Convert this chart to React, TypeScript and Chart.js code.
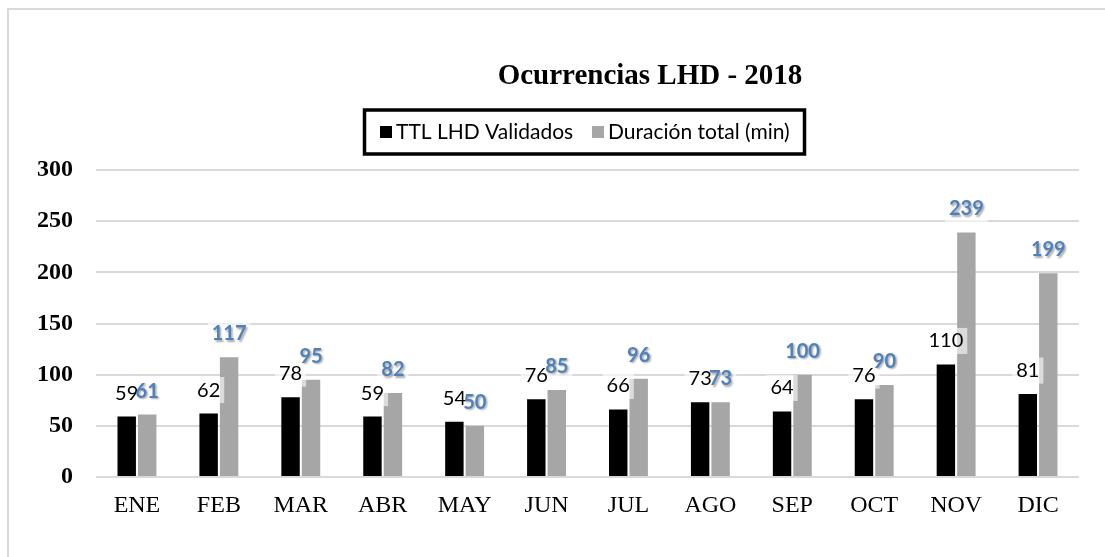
import React, { useEffect, useRef } from "react";
import { Chart, registerables } from "chart.js";

Chart.register(...registerables);

const categories = ["ENE", "FEB", "MAR", "ABR", "MAY", "JUN", "JUL", "AGO", "SEP", "OCT", "NOV", "DIC"];
const validados = [59, 62, 78, 59, 54, 76, 66, 73, 64, 76, 110, 81];
const duracion = [61, 117, 95, 82, 50, 85, 96, 73, 100, 90, 239, 199];
const seriesNames = ["TTL LHD Validados", "Duración total (min)"];
const titleText = "Ocurrencias LHD - 2018";

const SERIF = "'Liberation Serif', 'Times New Roman', serif";
const SANS = "Lato, 'Open Sans', sans-serif";

const framePlugin = {
  id: "frame",
  beforeDraw(chart: any) {
    const ctx = chart.ctx;
    ctx.save();
    ctx.fillStyle = "#ffffff";
    ctx.fillRect(0, 0, chart.width, chart.height);
    ctx.strokeStyle = "#d9d9d9";
    ctx.lineWidth = 2;
    ctx.beginPath();
    ctx.moveTo(8, chart.height + 5);
    ctx.lineTo(8, 9);
    ctx.lineTo(chart.width + 5, 9);
    ctx.stroke();
    ctx.restore();
  },
};

const headerPlugin = {
  id: "header",
  afterDraw(chart: any) {
    const ctx = chart.ctx;
    ctx.save();
    ctx.fillStyle = "#000";
    ctx.font = `bold 29px ${SERIF}`;
    ctx.textAlign = "center";
    ctx.textBaseline = "alphabetic";
    ctx.fillText(titleText, 650, 84);
    ctx.lineWidth = 3.5;
    ctx.strokeStyle = "#000";
    ctx.strokeRect(364.5, 110, 440, 44);
    ctx.font = `21px ${SANS}`;
    ctx.textAlign = "left";
    ctx.textBaseline = "middle";
    const colors = ["#000000", "#a6a6a6"];
    const xs = [380, 592];
    for (let i = 0; i < 2; i++) {
      ctx.fillStyle = colors[i];
      ctx.fillRect(xs[i], 126, 12, 12);
      ctx.fillStyle = "#000";
      ctx.fillText(seriesNames[i], xs[i] + 16, 132);
    }
    ctx.restore();
  },
};

const labelPlugin = {
  id: "valueLabels",
  afterDatasetsDraw(chart: any) {
    const ctx = chart.ctx;
    ctx.save();
    ctx.textAlign = "center";
    ctx.textBaseline = "middle";
    const items: any[] = [];
    chart.data.datasets.forEach((ds: any, di: number) => {
      const meta = chart.getDatasetMeta(di);
      meta.data.forEach((bar: any, i: number) => {
        items.push({ text: String(ds.data[i]), x: bar.x, y: bar.y - 23.5, di });
      });
    });
    items.forEach((it) => {
      ctx.font = it.di === 0 ? `20px ${SANS}` : `bold 20px ${SANS}`;
      const w = ctx.measureText(it.text).width;
      ctx.fillStyle = "rgba(255,255,255,0.6)";
      ctx.fillRect(it.x - w / 2 - 4, it.y - 13, w + 8, 26);
    });
    items.forEach((it) => {
      ctx.font = it.di === 0 ? `20px ${SANS}` : `bold 20px ${SANS}`;
      if (it.di === 0) {
        ctx.shadowColor = "transparent";
        ctx.fillStyle = "#000";
      } else {
        ctx.shadowColor = "rgba(0,0,0,0.35)";
        ctx.shadowOffsetX = 1.5;
        ctx.shadowOffsetY = 1.5;
        ctx.shadowBlur = 2;
        ctx.fillStyle = "#4f81bd";
      }
      ctx.fillText(it.text, it.x, it.y);
      ctx.shadowColor = "transparent";
    });
    ctx.restore();
  },
};

export default function App() {
  const ref = useRef<HTMLCanvasElement | null>(null);
  useEffect(() => {
    if (!ref.current) return;
    const chart = new Chart(ref.current, {
      type: "bar",
      data: {
        labels: categories,
        datasets: [
          { label: seriesNames[0], data: validados, backgroundColor: "#000000", categoryPercentage: 0.5, barPercentage: 0.9 },
          { label: seriesNames[1], data: duracion, backgroundColor: "#a6a6a6", categoryPercentage: 0.5, barPercentage: 0.9 },
        ],
      },
      options: {
        responsive: false,
        animation: false,
        layout: { padding: { top: 170, right: 26, bottom: 0, left: 0 } },
        plugins: {
          legend: { display: false },
          title: { display: false },
          tooltip: { enabled: false },
        },
        scales: {
          x: {
            grid: { display: false, drawTicks: false },
            border: { display: false },
            ticks: { color: "#000", font: { family: SERIF, size: 24 }, padding: 14, maxRotation: 0 },
            afterFit: (s: any) => { s.height = 80; },
          },
          y: {
            min: 0,
            max: 300,
            grid: { color: "#d9d9d9", lineWidth: 2, drawTicks: false },
            border: { display: false },
            ticks: { stepSize: 50, color: "#000", font: { family: SERIF, size: 24, weight: "bold" }, padding: 23 },
            afterFit: (s: any) => { s.width = 96; },
          },
        },
      },
      plugins: [framePlugin, labelPlugin, headerPlugin],
    });
    return () => chart.destroy();
  }, []);
  return (
    <div style={{ position: "fixed", left: 0, top: 0, width: 1105, height: 557 }}>
      <canvas ref={ref} width={1105} height={557} style={{ display: "block" }} />
    </div>
  );
}
